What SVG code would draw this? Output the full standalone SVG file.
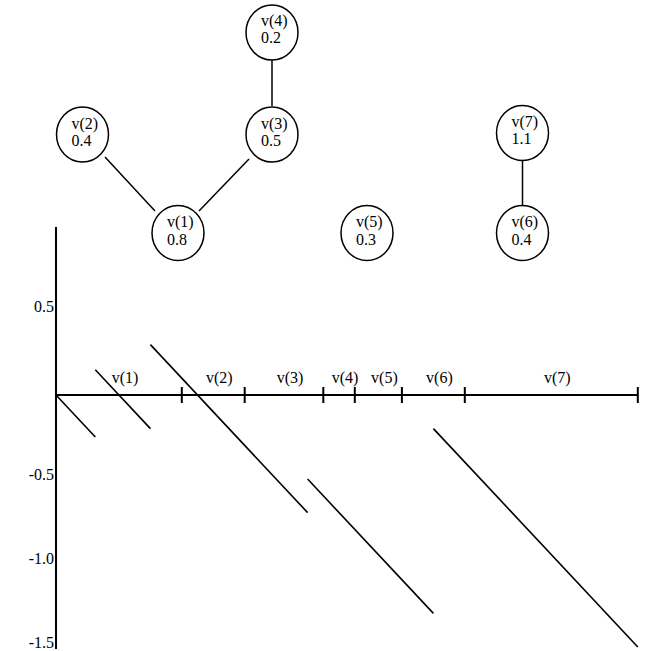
<svg xmlns="http://www.w3.org/2000/svg" width="670" height="651" viewBox="0 0 670 651">
<style>
text{font-family:"Liberation Serif","DejaVu Serif",serif;font-size:16px;fill:#000}
.node ellipse{fill:#fff;stroke:#000;stroke-width:1.5}
.edge{stroke:#000;stroke-width:1.5;fill:none}
.axis{stroke:#000;stroke-width:2;fill:none}
.seg{stroke:#000;stroke-width:1.6;fill:none}
.lbl{text-anchor:middle}
.ylbl{text-anchor:end}
</style>
<rect width="670" height="651" fill="#fff"/>
<g id="connectors">
<line class="edge" x1="105" y1="157" x2="155" y2="211"/>
<line class="edge" x1="249" y1="159" x2="199" y2="211"/>
<line class="edge" x1="272" y1="60" x2="272" y2="106"/>
<line class="edge" x1="522.5" y1="161" x2="522.5" y2="206"/>
</g>
<g id="v1" class="node"><ellipse cx="178" cy="233" rx="26" ry="27.5"/><text x="167" y="227">v(1)</text><text x="167" y="245">0.8</text></g>
<g id="v2" class="node"><ellipse cx="82.5" cy="134.5" rx="26" ry="27.5"/><text x="71.5" y="128.5">v(2)</text><text x="71.5" y="146">0.4</text></g>
<g id="v3" class="node"><ellipse cx="272" cy="134.5" rx="26" ry="27.5"/><text x="261" y="128.5">v(3)</text><text x="261" y="146">0.5</text></g>
<g id="v4" class="node"><ellipse cx="272" cy="32.5" rx="26" ry="27.5"/><text x="261" y="25.5">v(4)</text><text x="261" y="43">0.2</text></g>
<g id="v5" class="node"><ellipse cx="367" cy="233" rx="26" ry="27.5"/><text x="356" y="227">v(5)</text><text x="356" y="245">0.3</text></g>
<g id="v6" class="node"><ellipse cx="522.5" cy="233" rx="26" ry="27.5"/><text x="511.5" y="227">v(6)</text><text x="511.5" y="245">0.4</text></g>
<g id="v7" class="node"><ellipse cx="522.5" cy="133" rx="26" ry="27.5"/><text x="511.5" y="127">v(7)</text><text x="511.5" y="144">1.1</text></g>
<g id="chart">
<line class="axis" x1="56" y1="227" x2="56" y2="649"/>
<line class="axis" x1="56" y1="395" x2="637.8" y2="395"/>
<g class="axis">
<line x1="181.8" y1="387" x2="181.8" y2="403"/>
<line x1="244.7" y1="387" x2="244.7" y2="403"/>
<line x1="323.3" y1="387" x2="323.3" y2="403"/>
<line x1="354.8" y1="387" x2="354.8" y2="403"/>
<line x1="401.9" y1="387" x2="401.9" y2="403"/>
<line x1="464.8" y1="387" x2="464.8" y2="403"/>
<line x1="637.8" y1="387" x2="637.8" y2="403"/>
</g>
<text class="lbl" x="125" y="383">v(1)</text>
<text class="lbl" x="219.3" y="383">v(2)</text>
<text class="lbl" x="290" y="383">v(3)</text>
<text class="lbl" x="345" y="383">v(4)</text>
<text class="lbl" x="384.4" y="383">v(5)</text>
<text class="lbl" x="439.4" y="383">v(6)</text>
<text class="lbl" x="557.3" y="383">v(7)</text>
<text class="ylbl" x="54" y="312">0.5</text>
<text class="ylbl" x="54" y="480">-0.5</text>
<text class="ylbl" x="54" y="564">-1.0</text>
<text class="ylbl" x="54" y="648">-1.5</text>
<line class="seg" x1="56" y1="395" x2="95.3" y2="437"/>
<line class="seg" x1="95.3" y1="369.8" x2="150.4" y2="428.6"/>
<line class="seg" x1="150.4" y1="344.6" x2="307.6" y2="512.6"/>
<line class="seg" x1="307.6" y1="479" x2="433.4" y2="613.4"/>
<line class="seg" x1="433.4" y1="428.6" x2="637.8" y2="647"/>
</g>
</svg>
